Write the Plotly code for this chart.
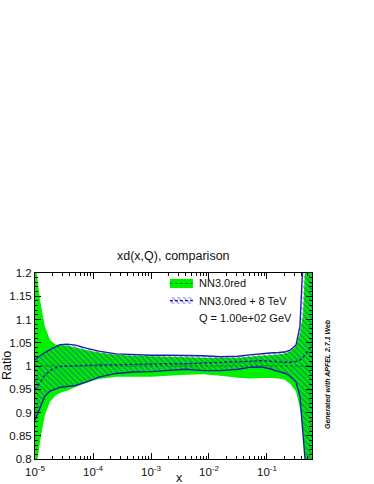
import plotly.graph_objects as go

# x grid (log spaced by eye) and ratio curves
x = [1.0e-5, 1.23e-5, 1.48e-5, 1.82e-5, 2.24e-5, 2.69e-5, 3.55e-5, 5.0e-5, 7.9e-5,
     1.26e-4, 2.5e-4, 5.0e-4, 1.0e-3, 2.0e-3, 4.0e-3, 7.9e-3, 1.58e-2, 3.16e-2,
     5.0e-2, 7.9e-2, 0.112, 0.158, 0.2, 0.25, 0.316, 0.37, 0.417, 0.468, 0.525, 0.597]

# NN3.0red (reference set, ratio to itself)
nn30_hi = [1.23, 1.14, 1.085, 1.056, 1.046, 1.045, 1.044, 1.040, 1.034,
           1.029, 1.024, 1.022, 1.021, 1.020, 1.019, 1.018, 1.017, 1.018,
           1.020, 1.022, 1.023, 1.025, 1.027, 1.031, 1.042, 1.07, 1.11, 1.25, 1.4, 1.6]
nn30_c = [1.0] * len(x)
nn30_lo = [0.76, 0.84, 0.895, 0.923, 0.936, 0.942, 0.947, 0.955, 0.965,
           0.972, 0.977, 0.977, 0.977, 0.979, 0.981, 0.982, 0.979, 0.975,
           0.973, 0.974, 0.974, 0.973, 0.971, 0.962, 0.945, 0.91, 0.86, 0.78, 0.7, 0.6]

# NN3.0red + 8 TeV
nn8_hi = [1.014, 1.022, 1.029, 1.035, 1.041, 1.046, 1.047, 1.045, 1.038,
          1.032, 1.026, 1.024, 1.023, 1.023, 1.023, 1.022, 1.020, 1.021,
          1.024, 1.027, 1.028, 1.029, 1.030, 1.034, 1.045, 1.085, 1.17, 1.3, 1.45, 1.65]
nn8_c = [0.948, 0.966, 0.980, 0.990, 0.996, 0.999, 1.000, 1.001, 1.0015,
         1.002, 1.003, 1.003, 1.004, 1.005, 1.005, 1.006, 1.007, 1.008,
         1.010, 1.0115, 1.011, 1.009, 1.008, 1.008, 1.010, 1.013, 1.018, 1.026, 1.034, 1.045]
nn8_lo = [0.884, 0.912, 0.935, 0.946, 0.951, 0.954, 0.956, 0.958, 0.966,
          0.976, 0.984, 0.987, 0.988, 0.990, 0.993, 0.990, 0.990, 0.993,
          0.997, 0.998, 0.994, 0.988, 0.985, 0.978, 0.966, 0.935, 0.87, 0.80, 0.70, 0.55]

x_decades = [1e-5, 1e-4, 1e-3, 1e-2, 1e-1]
x_ticktext = ["10<sup>-5</sup>", "10<sup>-4</sup>", "10<sup>-3</sup>", "10<sup>-2</sup>", "10<sup>-1</sup>"]
x_minor = [m * d for d in x_decades for m in range(2, 10)]

FONT = "Liberation Sans, Arial, Helvetica, sans-serif"
GREEN = "#00f000"
BLUE = "#1c1ca8"
HATCH = dict(shape="\\", size=4, solidity=0.45,
             fgcolor="rgba(30,30,190,0.75)", bgcolor="rgba(0,0,0,0)")
SHORT_DASH = "3px,2px"

fig = go.Figure()

# NN3.0red band
fig.add_trace(go.Scatter(x=x + x[::-1], y=nn30_hi + nn30_lo[::-1],
                         fill="toself", fillcolor=GREEN, mode="none",
                         hoverinfo="skip", showlegend=False))
fig.add_trace(go.Scatter(x=x, y=nn30_c, mode="lines",
                         line=dict(color="#0a8a0a", width=1, dash=SHORT_DASH),
                         showlegend=False))

# NN3.0red + 8 TeV hatched band
fig.add_trace(go.Scatter(x=x + x[::-1], y=nn8_hi + nn8_lo[::-1],
                         fill="toself", fillcolor="rgba(0,0,0,0)", mode="none",
                         fillpattern=HATCH, hoverinfo="skip", showlegend=False))
for yy, dash in [(nn8_hi, "solid"), (nn8_lo, "solid"), (nn8_c, SHORT_DASH)]:
    fig.add_trace(go.Scatter(x=x, y=yy, mode="lines",
                             line=dict(color=BLUE, width=1.4, dash=dash),
                             showlegend=False))

# legend swatch for the hatched band, drawn on a helper 0..1 axis pair
fig.add_trace(go.Scatter(x=[0.487, 0.570, 0.570, 0.487, 0.487],
                         y=[0.833, 0.833, 0.871, 0.871, 0.833],
                         xaxis="x2", yaxis="y2", fill="toself",
                         fillcolor="rgba(0,0,0,0)", mode="none",
                         fillpattern=HATCH, hoverinfo="skip", showlegend=False))

shapes = [
    dict(type="rect", xref="paper", yref="paper", x0=0.487, x1=0.570, y0=0.919, y1=0.968,
         fillcolor=GREEN, line=dict(width=0)),
    dict(type="line", xref="paper", yref="paper", x0=0.487, x1=0.570, y0=0.944, y1=0.944,
         line=dict(color="#0a8a0a", width=1, dash=SHORT_DASH)),
    dict(type="line", xref="paper", yref="paper", x0=0.487, x1=0.570, y0=0.852, y1=0.852,
         line=dict(color=BLUE, width=1.2, dash=SHORT_DASH)),
]


def note(text, x, y, size, xanchor="center", angle=0):
    return dict(text=text, x=x, y=y, xref="paper", yref="paper", xanchor=xanchor,
                yanchor="middle", textangle=angle, showarrow=False,
                font=dict(size=size, color="#111"))


annotations = [
    note("xd(x,Q), comparison", 0.5, 1.091, 12.5),
    note("Ratio", -0.101, 0.5, 12.5, angle=-90),
    note("x", 0.52, -0.1, 12.5),
    note("NN3.0red", 0.585, 0.946, 11, xanchor="left"),
    note("NN3.0red + 8 TeV", 0.585, 0.851, 11, xanchor="left"),
    note("Q = 1.00e+02 GeV", 0.585, 0.758, 11, xanchor="left"),
    note("<b><i>Generated with APFEL 2.7.1 Web</i></b>", 1.058, 0.457, 7, angle=-90),
]

fig.update_layout(
    width=374, height=484,
    margin=dict(l=35, r=62, t=273, b=25, autoexpand=False),
    paper_bgcolor="white", plot_bgcolor="white",
    font=dict(family=FONT, color="#111"),
    shapes=shapes, annotations=annotations,
    xaxis=dict(type="log", range=[-5, -0.224], tickvals=x_decades, ticktext=x_ticktext,
               ticks="inside", ticklen=6, tickcolor="black", showline=True,
               linecolor="black", linewidth=1, mirror="ticks", showgrid=False,
               zeroline=False, automargin=False, ticklabelstandoff=2,
               tickfont=dict(size=11.5, color="#111"),
               minor=dict(tickvals=x_minor, ticks="inside", ticklen=3, tickcolor="black")),
    yaxis=dict(range=[0.8, 1.2], dtick=0.05, tick0=0.8, ticks="inside", ticklen=6,
               tickcolor="black", showline=True, linecolor="black", linewidth=1,
               mirror="ticks", showgrid=False, zeroline=False, automargin=False,
               tickfont=dict(size=11.5, color="#111"),
               minor=dict(dtick=0.01, ticks="inside", ticklen=3, tickcolor="black")),
    xaxis2=dict(overlaying="x", range=[0, 1], visible=False),
    yaxis2=dict(overlaying="y", range=[0, 1], visible=False),
)

# drop the default page margin so the figure sits at the window's corner
fig.write_html("out.html", config={"displayModeBar": False},
               post_script="document.body.style.margin='0';")
